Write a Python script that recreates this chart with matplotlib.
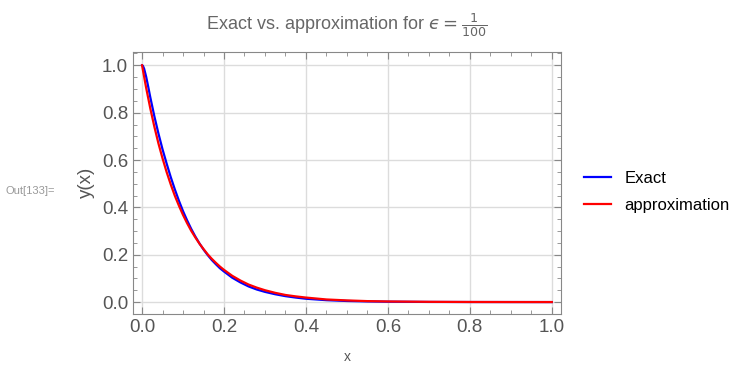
import numpy as np
import matplotlib.pyplot as plt
from matplotlib.ticker import MultipleLocator

plt.rcParams['font.family'] = ['Liberation Sans', 'DejaVu Sans']
plt.rcParams['mathtext.fontset'] = 'dejavusans'

# values
x_exact = [0.0, 0.002, 0.005, 0.01, 0.015, 0.02, 0.03, 0.04, 0.05, 0.06, 0.07, 0.08,
           0.09, 0.10, 0.11, 0.12, 0.13, 0.14, 0.15, 0.16, 0.17, 0.18, 0.19, 0.20,
           0.22, 0.24, 0.26, 0.28, 0.30, 0.325, 0.35, 0.375, 0.40, 0.45,
           0.50, 0.55, 0.60, 0.70, 0.80, 0.90, 1.0]
y_exact = [1.0, 0.998, 0.986, 0.952, 0.910, 0.866, 0.785, 0.712, 0.645, 0.585, 0.528, 0.476,
           0.428, 0.384, 0.345, 0.309, 0.277, 0.248, 0.222, 0.199, 0.178, 0.160, 0.143, 0.129,
           0.103, 0.083, 0.066, 0.053, 0.043, 0.033, 0.025, 0.019, 0.014, 0.008,
           0.0045, 0.0027, 0.0015, 0.0005, 0.0002, 0.0001, 0.0]

x_approx = [0.0, 0.01, 0.02, 0.03, 0.04, 0.05, 0.06, 0.07, 0.08, 0.09, 0.10, 0.11,
            0.12, 0.13, 0.14, 0.15, 0.16, 0.17, 0.18, 0.19, 0.20, 0.22, 0.24, 0.26,
            0.28, 0.30, 0.325, 0.35, 0.375, 0.40, 0.45, 0.50, 0.55, 0.60, 0.70,
            0.80, 0.90, 1.0]
y_approx = [1.0, 0.905, 0.819, 0.741, 0.670, 0.607, 0.549, 0.497, 0.449, 0.407, 0.368, 0.333,
            0.301, 0.273, 0.247, 0.224, 0.202, 0.183, 0.166, 0.150, 0.136, 0.111, 0.091, 0.074,
            0.061, 0.050, 0.039, 0.030, 0.024, 0.019, 0.011, 0.007, 0.004, 0.0025, 0.001,
            0.0003, 0.0001, 0.0]

fig = plt.figure(figsize=(7.35, 3.65), dpi=100)
ax = fig.add_axes([0.181, 0.140, 0.582, 0.718])

ax.plot(x_exact, y_exact, color='#0000ff', lw=1.6, label='Exact')
ax.plot(x_approx, y_approx, color='#ff0000', lw=1.6, label='approximation')

ax.set_xlim(-0.022, 1.022)
ax.set_ylim(-0.05, 1.057)
ax.xaxis.set_major_locator(MultipleLocator(0.2))
ax.xaxis.set_minor_locator(MultipleLocator(0.05))
ax.yaxis.set_major_locator(MultipleLocator(0.2))
ax.yaxis.set_minor_locator(MultipleLocator(0.05))
ax.xaxis.set_major_formatter(plt.FuncFormatter(lambda v, p: '%.1f' % v))
ax.yaxis.set_major_formatter(plt.FuncFormatter(lambda v, p: '%.1f' % v))

ax.grid(True, which='major', color='#dcdcdc', lw=1)
ax.set_axisbelow(True)
for s in ax.spines.values():
    s.set_color('#888888')
ax.tick_params(which='both', direction='in', top=True, right=True,
               color='#888888', labelcolor='#555555', labelsize=13.5)
ax.tick_params(which='major', length=5)
ax.tick_params(which='minor', length=3)

ax.set_ylabel('y(x)', fontsize=13.5, color='#555555', labelpad=5)
ax.set_xlabel('x', fontsize=10, color='#555555', labelpad=10)
ax.set_title('Exact vs. approximation for $\u03f5 = \\frac{1}{100}$',
             fontsize=13, color='#666666', pad=16)

fig.text(0.008, 0.478, 'Out[133]=', fontsize=8, color='#999999', va='center')

ax.legend(loc='center left', bbox_to_anchor=(1.02, 0.465), frameon=False,
          fontsize=12, handlelength=1.6, labelspacing=0.75)

fig.savefig('out.png', dpi=100)
